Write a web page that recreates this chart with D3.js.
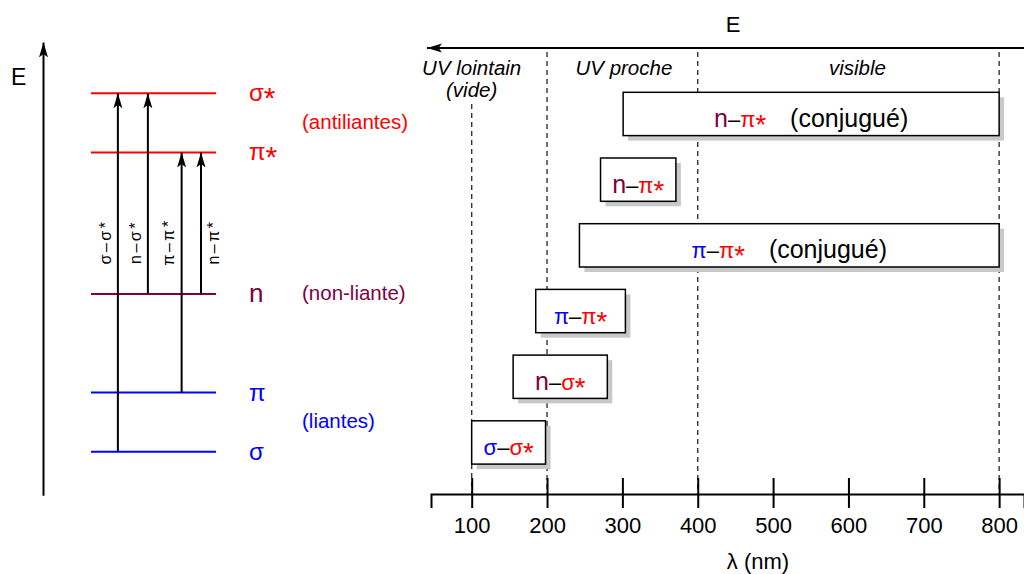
<!DOCTYPE html>
<html>
<head>
<meta charset="utf-8">
<script src="https://cdn.jsdelivr.net/npm/d3@7"></script>
<style>
  body { margin: 0; background: #fff; }
  svg { display: block; font-family: "Liberation Sans", Arial, sans-serif; }
</style>
</head>
<body>
<div id="chart"></div>
<script>
// energy levels, arbitrary units (sigma = 0, sigma* = 100)
var levelNames = ["σ*", "π*", "n", "π", "σ"];
var levelEnergy = [100, 83.5, 44, 16.5, 0];
var levelColor = {"σ*": "#ff0000", "π*": "#ff0000", "n": "#800040", "π": "#0000ff", "σ": "#0000ff"};
var groupNames = ["(antiliantes)", "(non-liante)", "(liantes)"];
var groupLevels = [["σ*", "π*"], ["n"], ["π", "σ"]];

// transitions as arrows on the level diagram (slot = position along the level line, 0..10)
var transFrom = ["σ", "n", "π", "n"];
var transTo = ["σ*", "σ*", "π*", "π*"];
var transSlot = [2.15, 4.55, 7.25, 8.8];
var transSide = [-1, -1, -1, 1];

// absorption ranges in nm, top to bottom
var bandFrom = ["n", "n", "π", "π", "n", "σ"];
var bandTo = ["π*", "π*", "π*", "π*", "σ*", "σ*"];
var bandLo = [301, 271, 243, 185, 155, 100];
var bandHi = [800, 371, 800, 304, 280, 198];
var bandNote = ["(conjugué)", "", "(conjugué)", "", "", ""];

var regionNames = [["UV lointain", "(vide)"], ["UV proche"], ["visible"]];
var regionCentre = [100, 302, 612];
var regionLimits = [100, 200, 400, 800];
var tickValues = [100, 200, 300, 400, 500, 600, 700, 800];

var width = 1024, height = 574;
var svg = d3.select("#chart").append("svg")
    .attr("width", width)
    .attr("height", height);

// writes "x*" as the letter plus a bigger, lowered asterisk
function orbital(sel, name, color) {
  sel.append("tspan").attr("fill", color).text(name.replace("*", ""));
  if (name.indexOf("*") >= 0)
    sel.append("tspan").attr("fill", color)
        .attr("font-size", "1.25em")
        .attr("baseline-shift", "-7px")
        .text("*");
}

var defs = svg.append("defs");
defs.append("marker")
    .attr("id", "head")
    .attr("markerUnits", "userSpaceOnUse")
    .attr("viewBox", "0 -5 16 10")
    .attr("refX", 15).attr("refY", 0)
    .attr("markerWidth", 16).attr("markerHeight", 10)
    .attr("orient", "auto")
  .append("path")
    .attr("d", "M0,-4.5L15,0L0,4.5L3.5,0Z")
    .attr("fill", "#000");

// ---------- left: energy diagram ----------
var ey = d3.scaleLinear().domain([0, 100]).range([451.7, 93.3]);
var lx = d3.scaleLinear().domain([0, 10]).range([91, 216]);
var energyOf = {};
levelNames.forEach(function(n, i) { energyOf[n] = levelEnergy[i]; });

var left = svg.append("g");

left.append("line")
    .attr("x1", 43.5).attr("x2", 43.5)
    .attr("y1", ey(-12.3)).attr("y2", ey(114.2))
    .attr("stroke", "#000").attr("stroke-width", 2)
    .attr("marker-end", "url(#head)");

left.append("text")
    .attr("x", 11).attr("y", 85)
    .attr("font-size", 23)
    .text("E");

left.selectAll(".level")
    .data(levelNames)
  .enter().append("line")
    .attr("class", "level")
    .attr("x1", lx(0)).attr("x2", lx(10))
    .attr("y1", function(d) { return ey(energyOf[d]); })
    .attr("y2", function(d) { return ey(energyOf[d]); })
    .attr("stroke", function(d) { return levelColor[d]; })
    .attr("stroke-width", 2);

left.selectAll(".levlabel")
    .data(levelNames)
  .enter().append("text")
    .attr("class", "levlabel")
    .attr("x", 249)
    .attr("y", function(d) { return ey(energyOf[d]) + 8; })
    .attr("font-size", function(d) { return d == "n" ? 26 : 24; })
    .each(function(d) { orbital(d3.select(this), d, levelColor[d]); });

left.selectAll(".group")
    .data(groupNames)
  .enter().append("text")
    .attr("class", "group")
    .attr("x", 302)
    .attr("y", function(d, i) {
      return d3.mean(groupLevels[i], function(n) { return ey(energyOf[n]); }) + 6;
    })
    .attr("font-size", 20.5)
    .attr("fill", function(d, i) { return levelColor[groupLevels[i][0]]; })
    .text(function(d) { return d; });

var trans = left.selectAll(".trans")
    .data(transFrom)
  .enter().append("g")
    .attr("class", "trans");

trans.append("line")
    .attr("x1", function(d, i) { return lx(transSlot[i]); })
    .attr("x2", function(d, i) { return lx(transSlot[i]); })
    .attr("y1", function(d) { return ey(energyOf[d]); })
    .attr("y2", function(d, i) { return ey(energyOf[transTo[i]]); })
    .attr("stroke", "#000").attr("stroke-width", 2)
    .attr("marker-end", "url(#head)");

trans.append("text")
    .attr("transform", function(d, i) {
      return "translate(" + (lx(transSlot[i]) + transSide[i] * 12.5) + ",242) rotate(-90)";
    })
    .attr("dy", "0.32em")
    .attr("text-anchor", "middle")
    .attr("font-size", 16)
    .attr("letter-spacing", 2.5)
    .text(function(d, i) { return d + "–" + transTo[i]; });

// ---------- right: wavelength ranges ----------
var x = d3.scaleLinear().domain([46, 833]).range([431, 1024]);
var axisY = 494;
var bands = bandFrom.map(function(f, i) {
  return {row: i, from: f, to: bandTo[i], lo: bandLo[i], hi: bandHi[i], note: bandNote[i]};
});
var rows = d3.scaleBand()
    .domain(d3.range(bands.length))
    .range([92.3, 464.1])
    .paddingInner(0.341)
    .paddingOuter(0);

var right = svg.append("g");

// top energy arrow
right.append("line")
    .attr("x1", 1030).attr("x2", 427)
    .attr("y1", 48).attr("y2", 48)
    .attr("stroke", "#000").attr("stroke-width", 2)
    .attr("marker-end", "url(#head)");
right.append("text")
    .attr("x", 733).attr("y", 32)
    .attr("text-anchor", "middle")
    .attr("font-size", 22)
    .text("E");

// dashed region limits (the first one starts below its label)
right.selectAll(".limit")
    .data(regionLimits)
  .enter().append("line")
    .attr("class", "limit")
    .attr("x1", function(d) { return x(d); })
    .attr("x2", function(d) { return x(d); })
    .attr("y1", function(d, i) { return i == 0 ? 104 : 52; })
    .attr("y2", axisY)
    .attr("stroke", "#333").attr("stroke-width", 1.4)
    .attr("stroke-dasharray", "5,4");

var region = right.selectAll(".region")
    .data(regionNames)
  .enter().append("text")
    .attr("class", "region")
    .attr("text-anchor", "middle")
    .attr("font-size", 20.5)
    .attr("font-style", "italic");
region.selectAll("tspan")
    .data(function(d, i) { return d.map(function(s) { return {s: s, c: regionCentre[i]}; }); })
  .enter().append("tspan")
    .attr("x", function(d) { return x(d.c); })
    .attr("y", function(d, j) { return 75 + j * 22; })
    .text(function(d) { return d.s; });

var band = right.selectAll(".band")
    .data(bands)
  .enter().append("g")
    .attr("class", "band");

band.append("rect")
    .attr("x", function(d) { return x(d.lo) + 5; })
    .attr("y", function(d) { return rows(d.row) + 5; })
    .attr("width", function(d) { return x(d.hi) - x(d.lo); })
    .attr("height", rows.bandwidth())
    .attr("fill", "#c8c8c8");

band.append("rect")
    .attr("x", function(d) { return x(d.lo); })
    .attr("y", function(d) { return rows(d.row); })
    .attr("width", function(d) { return x(d.hi) - x(d.lo); })
    .attr("height", rows.bandwidth())
    .attr("fill", "#fff")
    .attr("stroke", "#000").attr("stroke-width", 1.5);

band.append("text")
    .attr("x", function(d) { return (x(d.lo) + x(d.hi)) / 2; })
    .attr("y", function(d) { return rows(d.row) + rows.bandwidth() / 2 + 13; })
    .attr("text-anchor", "middle")
    .attr("font-size", 22)
    .each(function(d) {
      var t = d3.select(this);
      orbital(t, d.from, levelColor[d.from]);
      if (d.from == "n") t.select("tspan").attr("font-size", 25);
      t.append("tspan").text("–");
      orbital(t, d.to, levelColor[d.to]);
      if (d.note) t.append("tspan").attr("dx", 24).attr("font-size", 25).text(d.note);
    });

// wavelength axis
var axis = right.append("g")
    .attr("transform", "translate(0," + axisY + ")")
    .call(d3.axisBottom(x).tickValues(tickValues).tickSizeOuter(0).tickSize(14));
axis.select(".domain").attr("stroke-width", 2);
axis.selectAll(".tick line").attr("y1", -16).attr("stroke-width", 2);
axis.selectAll(".tick text")
    .attr("y", 39).attr("dy", 0)
    .attr("font-size", 22)
    .attr("font-family", "Liberation Sans, Arial, sans-serif")
    .attr("fill", "#000");

right.append("text")
    .attr("x", 758).attr("y", 569)
    .attr("text-anchor", "middle")
    .attr("font-size", 22)
    .text("λ (nm)");
</script>
</body>
</html>
